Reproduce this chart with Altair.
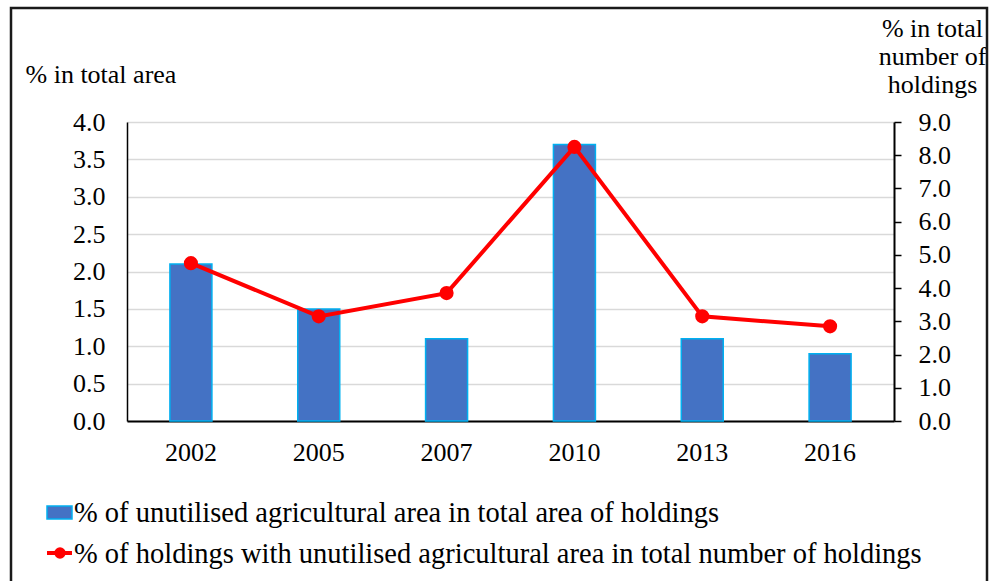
import altair as alt
import pandas as pd

# Survey years and the two shares plotted against them
years = ["2002", "2005", "2007", "2010", "2013", "2016"]
area_share = [2.1, 1.5, 1.1, 3.7, 1.1, 0.9]            # % in total area (left axis)
holdings_share = [4.75, 3.15, 3.85, 8.25, 3.15, 2.85]  # % in total number of holdings (right axis)

left_ticks = [0.0, 0.5, 1.0, 1.5, 2.0, 2.5, 3.0, 3.5, 4.0]
right_ticks = [0.0, 1.0, 2.0, 3.0, 4.0, 5.0, 6.0, 7.0, 8.0, 9.0]

legend_labels = [
    "% of unutilised agricultural area in total area of holdings",
    "% of holdings with unutilised agricultural area in total number of holdings",
]

FONT = "'Times New Roman', 'Liberation Serif', 'DejaVu Serif', serif"
FS = 26
LEGEND_FS = 28.5
BAR_FILL = "#4472C4"
BAR_EDGE = "#00B0F0"
RED = "#FF0000"

df = pd.DataFrame({"year": years, "area": area_share, "holdings": holdings_share})

x_enc = alt.X(
    "year:N",
    sort=years,
    scale=alt.Scale(paddingInner=0, paddingOuter=0),
    axis=alt.Axis(
        title=None, labelAngle=0, ticks=False, domainColor="black", domainWidth=2,
        labelPadding=18, labelFont=FONT, labelFontSize=FS, labelColor="black",
    ),
)

bars = alt.Chart(df).mark_bar(
    size=42, fill=BAR_FILL, stroke=BAR_EDGE, strokeWidth=1.5
).encode(
    x=x_enc,
    y=alt.Y(
        "area:Q",
        scale=alt.Scale(domain=[0, 4], nice=False),
        axis=alt.Axis(
            values=left_ticks, format=".1f", ticks=False,
            domainColor="black", domainWidth=1.5,
            gridColor="#d9d9d9", gridWidth=1.5,
            labelPadding=22, labelFont=FONT, labelFontSize=FS, labelColor="black",
            title="% in total area", titleAngle=0, titleAlign="left",
            titleBaseline="alphabetic", titleX=-102, titleY=-40,
            titleFont=FONT, titleFontSize=FS, titleFontWeight="normal", titleColor="black",
        ),
    ),
)

y_right = alt.Y(
    "holdings:Q",
    scale=alt.Scale(domain=[0, 9], nice=False),
    axis=alt.Axis(
        orient="right", values=right_ticks, format=".1f", grid=False,
        domainColor="black", domainWidth=2, tickColor="black", tickWidth=1.5, tickSize=7,
        labelPadding=17, labelFont=FONT, labelFontSize=FS, labelColor="black",
        title=["% in total", "number of", "holdings"], titleAngle=0, titleAlign="center",
        titleBaseline="alphabetic", titleX=38, titleY=-86, titleLineHeight=28,
        titleFont=FONT, titleFontSize=FS, titleFontWeight="normal", titleColor="black",
    ),
)

line = alt.Chart(df).mark_line(color=RED, strokeWidth=4).encode(x=x_enc, y=y_right)
dots = alt.Chart(df).mark_point(filled=True, color=RED, opacity=1, size=200).encode(x=x_enc, y=y_right)
holdings_layer = alt.layer(line, dots)

# Hand-built legend below the plot
one = pd.DataFrame({"k": [0]})
sw_bar = alt.Chart(one).mark_rect(fill=BAR_FILL, stroke=BAR_EDGE, strokeWidth=1.5).encode(
    x=alt.value(-80), x2=alt.value(-55), y=alt.value(384), y2=alt.value(397)
)
sw_line = alt.Chart(one).mark_rule(color=RED, strokeWidth=4).encode(
    x=alt.value(-80), x2=alt.value(-55), y=alt.value(431)
)
sw_dot = alt.Chart(one).mark_point(filled=True, color=RED, opacity=1, size=130).encode(
    x=alt.value(-67), y=alt.value(431)
)
lab1 = alt.Chart(pd.DataFrame({"label": [legend_labels[0]]})).mark_text(
    align="left", baseline="middle", font=FONT, fontSize=LEGEND_FS, color="black"
).encode(x=alt.value(-53), y=alt.value(391), text="label:N")
lab2 = alt.Chart(pd.DataFrame({"label": [legend_labels[1]]})).mark_text(
    align="left", baseline="middle", font=FONT, fontSize=LEGEND_FS, color="black"
).encode(x=alt.value(-53), y=alt.value(432), text="label:N")

# Outer frame around the whole figure
frame = alt.Chart(one).mark_rect(fill=None, stroke="#1a1a1a", strokeWidth=2.5).encode(
    x=alt.value(-116), x2=alt.value(860), y=alt.value(-114), y2=alt.value(480)
)

chart = alt.layer(
    bars, holdings_layer, sw_bar, sw_line, sw_dot, lab1, lab2, frame
).resolve_scale(y="independent").properties(
    width=767,
    height=299,
    autosize=alt.AutoSizeParams(type="none"),
    padding={"left": 127, "top": 122, "right": 95, "bottom": 160},
    background="white",
).configure_view(strokeWidth=0)

chart.save("out.html", embed_options={"renderer": "svg", "actions": False})
